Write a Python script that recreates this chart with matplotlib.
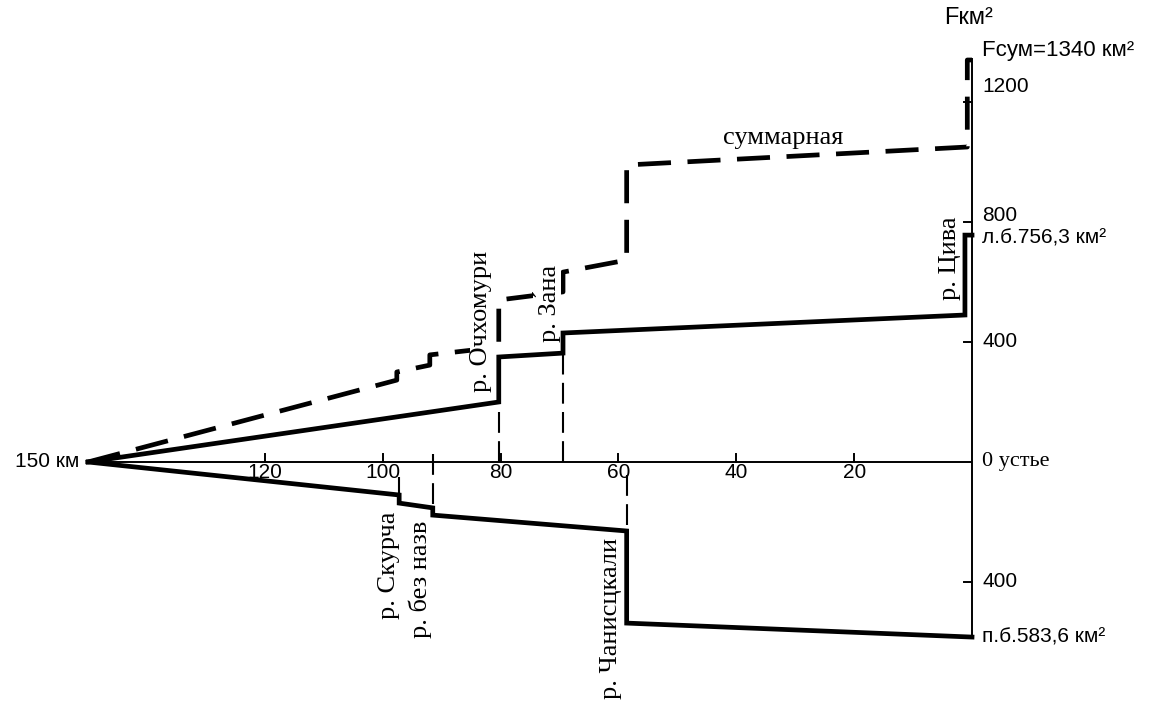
import matplotlib
matplotlib.use("Agg")
import matplotlib.pyplot as plt

# ---- data ----
x_ticks = [120, 100, 80, 60, 40, 20]
y_ticks_up = [400, 800, 1200]
y_ticks_down = [400]

# left bank (л.б.) cumulative area, km from mouth -> km²
lb_km = [150, 80.3, 80.3, 69.4, 69.4, 1.2, 1.2, 0]
lb_F = [0, 200, 350, 363, 430, 490, 756.3, 756.3]

# right bank (п.б.) cumulative area (drawn below axis)
rb_km = [150, 97.2, 97.2, 91.5, 91.5, 58.6, 58.6, 0]
rb_F = [0, 110, 137, 153, 177, 230, 537, 583.6]

# total (суммарная)
sum_km = [150, 97.6, 97.6, 92, 92, 80.3, 80.3, 69.4, 69.4, 58.6, 58.6, 0.8, 0.8, 0]
sum_F = [0, 273, 300, 323, 357, 383, 540, 567, 633, 673, 990, 1050, 1340, 1340]

# tributaries: name, km, marker from, marker to
trib_names = ["р. Очхомури", "р. За\u0301на", "р. Цива", "р. Скурча", "р. без назв", "р. Чанисцкали"]
trib_km = [80.3, 69.4, 1.2, 97.2, 91.5, 58.6]
marker_from = [0, 0, None, -50, 25, -45]
marker_to = [200, 363, None, -110, -153, -230]

SERIF = ["Liberation Serif", "DejaVu Serif"]
SANS = ["Liberation Sans", "DejaVu Sans"]

fig = plt.figure(figsize=(11.52, 7.04), dpi=100)
ax = fig.add_axes([0, 0, 1, 1])
ax.set_xlim(164.93, -30.54)
ax.set_ylim(-806.7, 1540)
ax.axis("off")

K = "black"
# axes lines
ax.plot([150, 0], [0, 0], color=K, lw=1.4, solid_capstyle="butt")
ax.plot([0, 0], [-585, 1345], color=K, lw=1.4, solid_capstyle="butt")
for t in x_ticks:
    ax.plot([t, t], [0, 28], color=K, lw=1.4)
for t in y_ticks_up:
    ax.plot([0, 1.4], [t, t], color=K, lw=1.4)
for t in y_ticks_down:
    ax.plot([0, 1.4], [-t, -t], color=K, lw=1.4)

# series
ax.plot(lb_km, lb_F, color=K, lw=3.4, solid_joinstyle="miter", zorder=6)
ax.plot(rb_km, [-v for v in rb_F], color=K, lw=3.4, solid_joinstyle="miter", zorder=6)
ax.plot(sum_km, sum_F, color=K, lw=3.4, dashes=(7, 3.5), dash_capstyle="butt")

# tributary marker lines
for km, a, b in zip(trib_km, marker_from, marker_to):
    if a is None:
        continue
    ax.plot([km, km], [a, b], color=K, lw=1.5, dashes=(10, 4))

# x tick labels
for t in x_ticks:
    ax.text(t, -35, str(t), ha="center", va="center", fontsize=15, family=SANS)
ax.text(151.5, 0, "150 км", ha="right", va="center", fontsize=15, family=SANS)

# right-side labels
ax.text(-1.7, 0, "0 устье", ha="left", va="center", fontsize=16, family=SERIF)
ax.text(-1.7, 400, "400", ha="left", va="center", fontsize=15, family=SANS)
ax.text(-1.7, 820, "800", ha="left", va="center", fontsize=15, family=SANS)
ax.text(-1.7, 1250, "1200", ha="left", va="center", fontsize=15, family=SANS)
ax.text(-1.7, 745, "л.б.756,3 км²", ha="left", va="center", fontsize=15, family=SANS)
ax.text(-1.7, -400, "400", ha="left", va="center", fontsize=15, family=SANS)
ax.text(-1.7, -585, "п.б.583,6 км²", ha="left", va="center", fontsize=15, family=SANS)
ax.text(-1.7, 1370, "Fсум=1340 км²", ha="left", va="center", fontsize=16, family=SANS)
ax.text(4.8, 1480, "Fкм²", ha="left", va="center", fontsize=17, family=SANS)

ax.text(32, 1080, "суммарная", ha="center", va="center", fontsize=19, family=SERIF)

# tributary names (rotated)
name_pos = [(83.3, 470), (72.2, 527), (3.7, 680), (99.0, -343), (93.6, -390), (61.2, -522)]
for name, (px, py) in zip(trib_names, name_pos):
    ax.text(px, py, name, rotation=90, ha="center", va="center", fontsize=19, family=SERIF,
            zorder=5, bbox=dict(facecolor="white", edgecolor="none", pad=0))

fig.savefig("out.png", dpi=100)
